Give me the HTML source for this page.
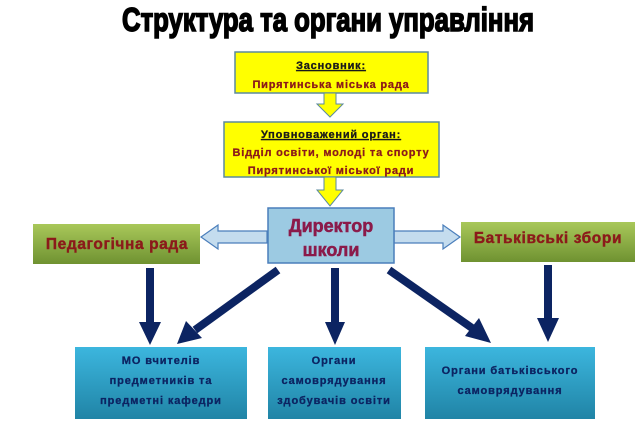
<!DOCTYPE html>
<html><head><meta charset="utf-8"><style>
html,body{margin:0;padding:0;background:#fff;}
body{width:640px;height:419px;overflow:hidden;}
svg text{font-family:"Liberation Sans","DejaVu Sans",sans-serif;font-weight:700;}
.y{letter-spacing:0.8px}
.s{letter-spacing:0.9px}
.gr{letter-spacing:0.6px}
</style></head><body>
<svg width="640" height="419" viewBox="0 0 640 419" xmlns="http://www.w3.org/2000/svg">
<defs>
<linearGradient id="g" x1="0" y1="0" x2="0" y2="1"><stop offset="0" stop-color="#a9c85a"/><stop offset="1" stop-color="#6f9231"/></linearGradient>
<linearGradient id="b" x1="0" y1="0" x2="0" y2="1"><stop offset="0" stop-color="#3cb6de"/><stop offset="1" stop-color="#2084a6"/></linearGradient>
</defs>
<text x="328" y="31" font-size="33" text-anchor="middle" textLength="412" lengthAdjust="spacingAndGlyphs" fill="#000" stroke="#000" stroke-width="1.6">Структура та органи управління</text>

<rect x="235" y="52" width="193" height="41" fill="#ffff00" stroke="#5b8a9e" stroke-width="1.5"/>
<text class="y" x="331" y="69" font-size="11" text-anchor="middle" fill="#1a1a1a" text-decoration="underline" stroke="#1a1a1a" stroke-width="0.3">Засновник:</text>
<text class="y" x="331" y="88" font-size="11" text-anchor="middle" fill="#8b1a1a" stroke="#8b1a1a" stroke-width="0.3">Пирятинська міська рада</text>
<polygon points="324,93 336,93 336,104 343,104 330,117 317,104 324,104" fill="#ffff00" stroke="#5b8a9e" stroke-width="1"/>

<rect x="224" y="122" width="215" height="55" fill="#ffff00" stroke="#5b8a9e" stroke-width="1.5"/>
<text class="y" x="331" y="138" font-size="11" text-anchor="middle" fill="#1a1a1a" text-decoration="underline" stroke="#1a1a1a" stroke-width="0.3">Уповноважений орган:</text>
<text class="y" x="331" y="156" font-size="11" text-anchor="middle" fill="#8b1a1a" stroke="#8b1a1a" stroke-width="0.3">Відділ освіти, молоді та спорту</text>
<text class="y" x="331" y="174" font-size="11" text-anchor="middle" fill="#8b1a1a" stroke="#8b1a1a" stroke-width="0.3">Пирятинської міської ради</text>
<polygon points="324,177 336,177 336,190 343,190 330,206 317,190 324,190" fill="#ffff00" stroke="#5b8a9e" stroke-width="1"/>

<polygon points="267,231 218,231 218,225 201,237 218,249 218,243 267,243" fill="#c4dcee" stroke="#4a7ebb" stroke-width="1.2"/>
<polygon points="394,231 443,231 443,225 460,237 443,249 443,243 394,243" fill="#c4dcee" stroke="#4a7ebb" stroke-width="1.2"/>

<rect x="268" y="208" width="126" height="55" fill="#9ccae2" stroke="#4a7ebb" stroke-width="1.5"/>
<text x="331" y="232" font-size="18" text-anchor="middle" fill="#8b1a4a" stroke="#8b1a4a" stroke-width="0.5">Директор</text>
<text x="331" y="256" font-size="18" text-anchor="middle" fill="#8b1a4a" stroke="#8b1a4a" stroke-width="0.5">школи</text>

<rect x="33" y="224" width="167" height="40" fill="url(#g)"/>
<text class="gr" x="117" y="249" font-size="15.5" text-anchor="middle" fill="#8b1a1a" stroke="#8b1a1a" stroke-width="0.4">Педагогічна рада</text>
<rect x="461" y="222" width="174" height="40" fill="url(#g)"/>
<text class="gr" x="548" y="243" font-size="15.5" text-anchor="middle" fill="#8b1a1a" stroke="#8b1a1a" stroke-width="0.4">Батьківські збори</text>

<g fill="#0c2462">
<polygon points="146,268 154,268 154,322 161,322 150,345 139,322 146,322"/>
<polygon points="331,268 339,268 339,322 345,322 335,345 325,322 331,322"/>
<polygon points="544,265 552,265 552,318 559,318 548,342 537,318 544,318"/>
</g>
<line x1="278" y1="270" x2="195" y2="330" stroke="#0c2462" stroke-width="8"/>
<polygon points="177,344 186,321 202,338" fill="#0c2462"/>
<line x1="389" y1="270" x2="472" y2="328" stroke="#0c2462" stroke-width="8"/>
<polygon points="491,343 465,336 479,318" fill="#0c2462"/>

<g fill="#0c2462" stroke="#0c2462" stroke-width="0.3" font-size="11" text-anchor="middle">
<rect x="75" y="347" width="172" height="72" fill="url(#b)" stroke="none"/>
<text class="s" x="161" y="364">МО вчителів</text>
<text class="s" x="161" y="384">предметників та</text>
<text class="s" x="161" y="404">предметні кафедри</text>
<rect x="268" y="347" width="133" height="72" fill="url(#b)" stroke="none"/>
<text class="s" x="334" y="364">Органи</text>
<text class="s" x="334" y="384">самоврядування</text>
<text class="s" x="334" y="404">здобувачів освіти</text>
<rect x="425" y="347" width="170" height="72" fill="url(#b)" stroke="none"/>
<text class="s" x="510" y="374">Органи батьківського</text>
<text class="s" x="510" y="394">самоврядування</text>
</g>
</svg>
</body></html>
